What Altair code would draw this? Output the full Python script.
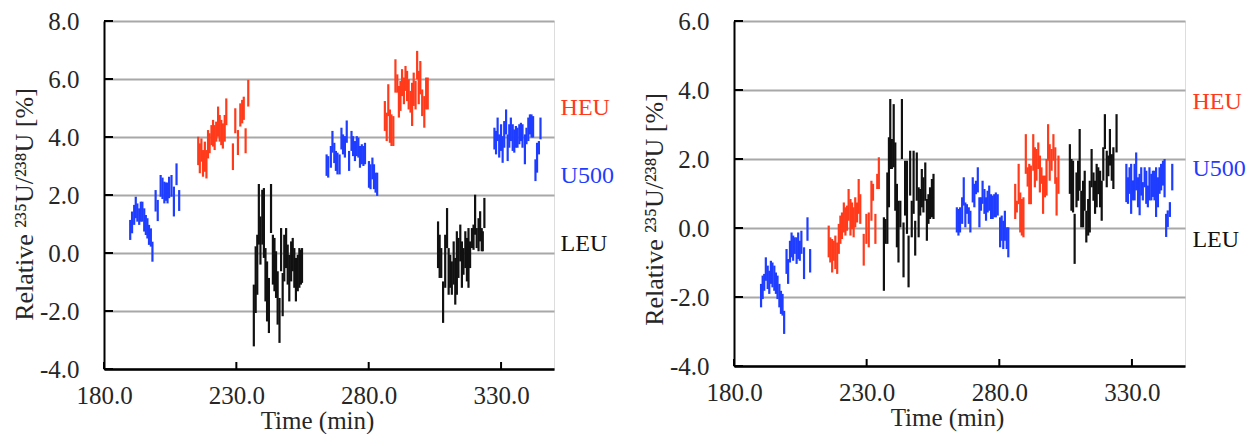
import altair as alt
import pandas as pd

FONT = "Liberation Serif, Times New Roman, Times, DejaVu Serif, serif"
TIME_TICKS = [180, 230, 280, 330]
LEFT_Y_TICKS = [-4, -2, 0, 2, 4, 6, 8]
RIGHT_Y_TICKS = [-4, -2, 0, 2, 4, 6]
GROUPS = ["HEU", "U500", "LEU"]
COLORS = ["#ff3b1c", "#1f3dff", "#111111"]
Y_TITLE = "Relative \u00b2\u00b3\u2075U/\u00b2\u00b3\u2078U [%]"

# ---- left panel: (time, low, high) ----
L_U500_A = [(189.9, 0.45, 1.14), (190.6, 0.68, 1.43), (191.4, 0.97, 1.66), (192.0, 1.20, 1.94),
            (192.6, 1.08, 1.71), (193.3, 0.97, 1.54), (193.9, 1.08, 1.77), (194.5, 1.08, 1.77),
            (195.2, 0.74, 1.54), (195.8, 0.62, 1.31), (196.4, 0.50, 1.20), (197.0, 0.28, 0.97),
            (197.7, 0.22, 0.85), (198.3, -0.30, 0.39),
            (199.5, 1.43, 2.17), (200.3, 1.10, 1.83), (201.4, 1.94, 2.69), (202.1, 1.86, 2.60),
            (202.8, 1.71, 2.46), (203.4, 1.80, 2.43), (204.0, 1.71, 2.43), (204.6, 1.89, 2.63),
            (205.5, 1.94, 2.69), (206.4, 1.26, 2.29), (207.4, 2.34, 3.09), (208.4, 1.45, 2.17)]
L_HEU_A = [(215.6, 3.03, 4.01), (216.2, 2.75, 3.78), (216.8, 3.15, 3.95), (217.4, 2.63, 3.55),
           (218.1, 2.80, 3.84), (218.7, 2.57, 3.55), (219.3, 3.26, 4.24), (219.9, 3.44, 4.13),
           (220.6, 3.72, 4.41), (221.2, 3.67, 4.59), (221.8, 3.55, 4.41), (222.4, 3.84, 4.53),
           (223.1, 4.01, 5.05), (223.7, 3.84, 4.76), (224.3, 3.72, 4.59), (224.9, 3.60, 4.47),
           (225.6, 3.84, 4.76), (226.2, 4.41, 5.33), (228.7, 2.86, 3.78), (229.6, 4.13, 4.99),
           (230.6, 3.38, 4.24), (231.5, 4.36, 5.16), (232.2, 4.47, 5.28), (232.8, 4.59, 5.39),
           (233.5, 3.44, 4.30), (234.5, 5.05, 5.97)]
L_LEU_A = [(236.6, -3.22, -1.09), (237.3, -2.07, 0.23), (237.9, -1.44, 0.63), (238.5, 0.29, 2.38),
           (239.1, -0.40, 1.26), (239.8, 0.29, 2.18), (240.4, -0.17, 2.24), (241.0, -1.67, 0.17),
           (241.6, -2.36, -0.29), (242.3, -2.76, -0.86), (243.1, 0.69, 2.38), (243.8, -1.09, 0.63),
           (244.4, -1.32, 0.52), (245.0, -1.55, 0.06), (245.6, -2.47, -0.63), (246.3, -3.10, -1.55),
           (246.9, -0.63, 0.86), (247.5, -2.18, -0.69), (248.1, -0.98, 0.63), (248.8, -0.52, 0.86),
           (249.4, -1.09, 0.29), (250.0, -1.67, -0.06), (250.7, -0.98, 0.40), (251.3, -0.63, 0.52),
           (251.9, -1.20, 0.17), (252.5, -1.67, -0.17), (253.2, -1.32, -0.06), (253.8, -1.20, 0.17),
           (254.4, -1.09, 0.11), (254.8, -1.03, 0.17)]
L_U500_B = [(264.1, 2.66, 3.40), (264.7, 2.60, 3.34), (265.7, 2.94, 3.69), (266.3, 3.46, 4.21),
            (267.0, 3.10, 3.80), (267.6, 2.83, 3.52), (268.2, 2.71, 3.46), (269.0, 2.71, 3.40),
            (269.7, 3.57, 4.32), (270.3, 3.40, 4.09), (271.0, 3.29, 4.03), (271.7, 3.80, 4.57),
            (272.6, 2.83, 3.52), (273.5, 3.52, 4.21), (274.1, 3.34, 4.03), (274.8, 3.17, 3.86),
            (275.5, 3.34, 4.03), (276.1, 3.29, 3.98), (276.7, 2.94, 3.69), (277.4, 3.06, 3.75),
            (278.0, 3.00, 3.69), (278.6, 3.06, 3.80), (280.1, 2.25, 3.17), (280.7, 2.20, 3.06),
            (281.4, 2.54, 3.29), (282.0, 2.20, 3.06), (282.6, 2.08, 2.77), (283.2, 1.97, 2.77)]
L_HEU_B = [(286.1, 4.21, 5.24), (286.8, 3.86, 4.84), (287.4, 4.72, 5.82), (288.0, 3.80, 4.95),
           (288.6, 3.69, 4.78), (289.3, 3.69, 4.72), (290.1, 5.53, 6.68), (290.8, 5.53, 6.16),
           (291.4, 4.67, 5.76), (292.0, 4.90, 5.93), (292.6, 5.41, 6.34), (293.3, 5.13, 6.05),
           (293.9, 5.59, 6.45), (294.5, 5.24, 6.28), (295.1, 4.95, 5.99), (295.8, 4.84, 5.59),
           (296.4, 4.38, 5.87), (297.0, 5.07, 6.22), (297.7, 4.95, 5.93), (298.3, 5.99, 6.97),
           (298.9, 5.13, 6.28), (299.5, 5.47, 6.62), (300.2, 4.72, 5.64), (301.0, 4.32, 5.41),
           (301.7, 4.95, 6.05), (302.3, 4.95, 6.05)]
L_LEU_B = [(306.2, -0.52, 1.09), (306.8, -0.86, 0.63), (307.4, -0.86, 0.17), (308.1, -2.41, -0.98),
           (308.9, -1.20, 0.63), (309.6, 0.17, 1.55), (310.2, -1.44, 0.17), (310.8, -1.20, -0.06),
           (311.4, -1.44, -0.29), (312.1, -1.09, 0.40), (312.7, -1.78, -0.17), (313.3, -1.44, 0.75),
           (313.9, -0.86, 0.52), (314.6, -0.29, 0.98), (315.2, -1.20, 0.40), (315.8, -0.75, 0.17),
           (316.5, -0.52, 0.75), (317.1, -0.98, 0.52), (317.7, -1.20, 0.86), (318.3, -0.52, 0.40),
           (319.0, 0.17, 0.86), (319.6, 0.11, 0.98), (320.2, 0.63, 2.01), (320.8, 0.17, 0.86),
           (321.5, 0.06, 1.20), (322.1, 0.40, 1.44), (322.7, 0.06, 0.86), (323.1, 0.06, 0.75),
           (323.7, 0.86, 1.90)]
L_U500_C = [(327.5, 3.57, 4.32), (328.1, 3.40, 4.21), (328.7, 3.86, 4.67), (329.3, 3.29, 4.09),
            (330.0, 3.52, 4.44), (330.6, 3.11, 4.03), (331.2, 3.63, 4.55), (331.9, 4.09, 4.95),
            (332.5, 3.17, 4.09), (333.1, 3.63, 4.44), (333.7, 3.86, 4.67), (334.4, 3.52, 4.44),
            (335.0, 3.46, 4.26), (335.6, 3.63, 4.38), (336.2, 3.63, 4.32), (336.9, 3.75, 4.44),
            (337.5, 3.86, 4.49), (338.1, 3.63, 4.44), (339.0, 3.06, 4.09), (339.6, 3.75, 4.32),
            (340.3, 3.86, 4.67), (340.9, 4.09, 4.78), (341.5, 3.98, 4.78), (342.1, 3.98, 4.72),
            (343.0, 2.48, 3.23), (343.6, 2.77, 3.80), (344.3, 3.40, 3.86), (344.9, 3.92, 4.67)]

# ---- right panel: (time, low, high) ----
R_U500_A = [(190.2, -2.30, -1.62), (190.8, -2.06, -1.38), (191.4, -1.82, -1.33), (192.0, -1.53, -0.85),
            (192.7, -1.77, -1.09), (193.3, -1.91, -1.24), (193.9, -1.62, -0.95), (194.5, -1.72, -1.00),
            (195.2, -1.82, -1.09), (195.8, -1.91, -1.29), (196.4, -2.06, -1.38), (197.1, -2.30, -1.62),
            (197.7, -2.49, -1.82), (198.3, -2.54, -1.91), (198.9, -3.07, -2.40),
            (199.8, -1.33, -0.61), (200.4, -1.62, -0.90), (201.1, -1.00, -0.37), (201.7, -0.85, -0.13),
            (202.3, -0.95, -0.22), (202.9, -0.75, -0.27), (203.6, -1.04, -0.27), (204.2, -0.90, -0.13),
            (204.8, -0.95, -0.37), (205.4, -0.75, -0.08), (206.4, -1.48, -0.56), (207.7, -0.37, 0.31),
            (208.7, -1.29, -0.61)]
R_HEU_A = [(215.7, -0.85, 0.07), (216.3, -1.00, -0.27), (217.0, -1.29, -0.32), (217.6, -0.95, -0.37),
           (218.2, -1.19, -0.22), (218.9, -1.33, -0.42), (219.5, -0.75, 0.12), (220.1, -0.46, 0.36),
           (220.7, -0.32, 0.45), (221.4, -0.13, 0.74), (222.0, -0.22, 0.60), (222.6, -0.08, 0.65),
           (223.2, 0.21, 1.13), (223.9, -0.22, 0.84), (224.5, -0.03, 0.74), (225.1, -0.27, 0.60),
           (225.7, 0.02, 0.89), (226.4, 0.16, 0.74), (227.0, 0.41, 1.42), (227.6, 0.12, 0.98),
           (228.9, -1.09, -0.17), (229.9, -0.46, 0.41), (230.8, -0.56, 0.45), (231.8, 0.21, 1.37),
           (232.4, 0.79, 1.28), (233.3, -0.46, 0.41), (234.0, 1.13, 1.57), (234.6, 1.13, 2.05)]
R_LEU_A = [(236.5, -1.82, 0.31), (237.1, -0.46, 0.26), (237.8, -0.46, 1.61), (238.4, 0.60, 2.63),
           (238.9, 1.71, 3.74), (239.5, 1.71, 2.58), (240.2, 1.76, 3.59), (240.8, 0.50, 2.48),
           (241.4, -0.56, 1.28), (242.0, -1.00, 0.79), (242.7, 0.02, 0.79), (243.3, 2.00, 3.74),
           (243.9, -1.43, 0.16), (244.5, 0.36, 1.95), (245.2, -0.17, 1.95), (245.8, -1.72, -0.22),
           (246.4, 0.94, 2.24), (247.0, -0.27, 0.79), (247.7, 0.41, 2.24), (248.3, -0.80, 0.21),
           (248.9, 0.79, 2.19), (249.6, -0.27, 1.18), (250.2, 0.36, 1.13), (250.8, 0.60, 1.71),
           (251.4, 0.45, 1.47), (252.1, 0.79, 1.90), (252.7, -0.37, 0.84), (253.3, 0.12, 0.98),
           (253.9, 0.26, 1.18), (254.6, 0.31, 1.42), (255.2, 0.26, 1.57)]
R_U500_B = [(264.0, -0.13, 0.60), (264.6, -0.22, 0.55), (265.2, -0.13, 0.60), (266.0, 0.12, 0.89),
            (266.6, 0.65, 1.47), (267.2, 0.02, 0.74), (267.8, 0.41, 0.69), (268.5, 0.12, 0.60),
            (269.1, -0.13, 0.50), (270.0, 0.74, 1.47), (270.6, 0.60, 1.28), (271.2, 0.98, 1.37),
            (271.9, 1.03, 1.76), (272.5, 0.02, 0.89), (273.1, 0.50, 0.89), (273.7, 0.70, 1.37),
            (274.4, 0.41, 1.13), (275.0, 0.21, 0.89), (275.6, 0.45, 1.08), (276.2, 0.50, 1.23),
            (276.9, 0.26, 0.98), (277.5, 0.26, 0.94), (278.1, 0.31, 0.98), (278.7, 0.31, 1.03),
            (279.4, 0.36, 0.98), (280.3, -0.56, 0.31), (280.9, -0.37, 0.36), (281.5, -0.61, 0.21),
            (282.1, -0.37, 0.50), (282.8, -0.61, 0.02), (283.4, -0.85, 0.02)]
R_HEU_B = [(286.0, 0.26, 1.28), (286.6, 0.45, 0.79), (287.3, 0.69, 1.86), (287.9, -0.13, 1.03),
           (288.5, -0.22, 0.84), (289.1, -0.27, 0.89), (290.0, 1.57, 2.72), (290.7, 1.20, 1.76),
           (291.3, 0.69, 1.86), (291.9, 0.69, 1.81), (292.8, 1.66, 2.72), (293.4, 1.18, 2.34),
           (294.0, 1.37, 2.29), (294.7, 1.71, 2.48), (295.3, 1.03, 2.10), (295.9, 1.28, 1.76),
           (296.5, 0.41, 1.52), (297.2, 0.89, 1.52), (297.8, 0.94, 2.00), (298.4, 1.95, 3.01),
           (299.0, 1.37, 2.43), (299.7, 1.66, 2.29), (300.4, 1.95, 2.72), (301.1, 1.28, 2.34),
           (301.6, 0.36, 1.47), (302.3, 0.99, 2.10)]
R_LEU_B = [(306.6, 0.99, 2.43), (307.2, 0.50, 2.00), (307.8, 0.45, 1.95), (308.4, -1.04, 0.41),
           (309.1, 0.60, 1.61), (309.7, 0.79, 1.95), (310.3, 1.08, 2.87), (310.9, 0.02, 1.08),
           (311.6, 0.02, 1.37), (312.2, 0.50, 1.66), (312.8, -0.42, 0.50), (313.5, -0.22, 0.84),
           (314.1, -0.13, 1.37), (314.8, 1.18, 2.29), (315.5, 0.79, 1.61), (316.1, 0.41, 1.37),
           (316.7, 0.60, 1.86), (317.3, 0.98, 1.76), (318.0, 0.60, 1.66), (318.6, 0.21, 1.37),
           (319.2, 1.37, 2.34), (319.8, 2.29, 3.30), (320.5, 1.18, 2.24), (321.1, 1.50, 2.10),
           (321.7, 1.81, 2.87), (322.4, 1.37, 2.14), (323.0, 1.13, 2.34), (324.2, 2.19, 3.30)]
R_U500_C = [(327.9, 0.75, 1.86), (328.5, 0.70, 1.47), (329.1, 0.99, 1.76), (329.7, 0.41, 1.86),
            (330.4, 0.80, 1.38), (331.0, 0.80, 1.86), (331.6, 1.09, 2.19), (332.3, 0.60, 1.47),
            (332.9, 0.37, 1.57), (333.5, 0.94, 1.76), (334.1, 0.80, 1.33), (334.8, 1.18, 1.76),
            (335.4, 0.70, 1.66), (336.0, 0.60, 1.23), (336.6, 0.80, 1.76), (337.3, 0.80, 1.57),
            (337.9, 0.90, 1.66), (338.5, 0.80, 1.66), (339.1, 0.32, 1.76), (339.8, 0.60, 1.47),
            (340.4, 0.99, 1.76), (341.0, 1.09, 1.86), (341.7, 1.23, 1.95), (342.3, 0.89, 2.00),
            (342.9, -0.26, 0.41), (343.5, 0.03, 0.51), (344.3, 0.32, 0.75), (345.2, 1.09, 1.86)]

# label positions (time, value)
L_LABELS = {"HEU": (352.5, 5.0), "U500": (352.5, 2.65), "LEU": (352.5, 0.3)}
R_LABELS = {"HEU": (352.8, 3.65), "U500": (352.8, 1.7), "LEU": (352.8, -0.35)}


def frame(groups):
    rows = []
    for name, pts in groups:
        for t, lo, hi in pts:
            rows.append({"group": name, "t": t, "lo": lo, "hi": hi})
    return pd.DataFrame(rows)


COLOR_SCALE = alt.Scale(domain=GROUPS, range=COLORS)
TXT = "#262626"
LABEL_EXPR = "replace(format(datum.value, '.1f'), '\u2212', '-')"


def panel(df, labels, yticks, ydom, w, h, title_y):
    xs = alt.Scale(domain=[180, 350], nice=False, zero=False)
    ys = alt.Scale(domain=ydom, nice=False, zero=False)
    base = alt.Chart(df).mark_rule(strokeWidth=2.2).encode(
        x=alt.X("t:Q", scale=xs, axis=alt.Axis(
            values=TIME_TICKS, labelExpr=LABEL_EXPR, title="Time (min)", grid=False,
            ticks=False, tickSize=0, labelPadding=14, labelFlush=False,
            titleX=213, titleY=39, domainColor="black",
            domainWidth=2.5, labelFont=FONT, labelFontSize=25, labelColor=TXT,
            titleFont=FONT, titleFontSize=25, titleFontWeight="normal", titleColor=TXT)),
        y=alt.Y("lo:Q", scale=ys, axis=alt.Axis(
            values=yticks, labelExpr=LABEL_EXPR, title=Y_TITLE, grid=True, gridColor="#a8a8a8",
            gridWidth=2, ticks=False, tickSize=0, labelPadding=25, labelFlush=False,
            titleX=-67, titleY=title_y, domainColor="black",
            domainWidth=2, labelFont=FONT, labelFontSize=25, labelColor=TXT,
            titleFont=FONT, titleFontSize=26, titleFontWeight="normal", titleColor=TXT)),
        y2="hi:Q",
        color=alt.Color("group:N", scale=COLOR_SCALE, legend=None),
    )
    ytick = alt.Chart(pd.DataFrame({"lo": yticks})).mark_rule(color="black", strokeWidth=2).encode(
        y=alt.Y("lo:Q", scale=ys), x=alt.value(0), x2=alt.value(9))
    xtick = alt.Chart(pd.DataFrame({"t": TIME_TICKS})).mark_rule(color="black", strokeWidth=2).encode(
        x=alt.X("t:Q", scale=xs), y=alt.value(h), y2=alt.value(h - 7))
    ldf = pd.DataFrame([{"group": g, "t": v[0], "lo": v[1]} for g, v in labels.items()])
    text = alt.Chart(ldf).mark_text(align="left", baseline="middle", font=FONT, fontSize=24).encode(
        x=alt.X("t:Q", scale=xs), y=alt.Y("lo:Q", scale=ys),
        text="group:N", color=alt.Color("group:N", scale=COLOR_SCALE, legend=None))
    return alt.layer(base, ytick, xtick, text).properties(width=w, height=h)


left_df = frame([("U500", L_U500_A), ("HEU", L_HEU_A), ("LEU", L_LEU_A), ("U500", L_U500_B),
                 ("HEU", L_HEU_B), ("LEU", L_LEU_B), ("U500", L_U500_C)])
right_df = frame([("U500", R_U500_A), ("HEU", R_HEU_A), ("LEU", R_LEU_A), ("U500", R_U500_B),
                  ("HEU", R_HEU_B), ("LEU", R_LEU_B), ("U500", R_U500_C)])

left = panel(left_df, L_LABELS, LEFT_Y_TICKS, [-4, 8], 450, 348, 183)
right = panel(right_df, R_LABELS, RIGHT_Y_TICKS, [-4, 6], 451, 345, 188)

chart = alt.hconcat(left, right, spacing=180, bounds="flush").properties(
    padding={"left": 2, "top": 0, "right": 0, "bottom": 0}
).configure_view(stroke=None).configure(background="white")

chart.save("out.html", embed_options={"renderer": "svg", "actions": False})
